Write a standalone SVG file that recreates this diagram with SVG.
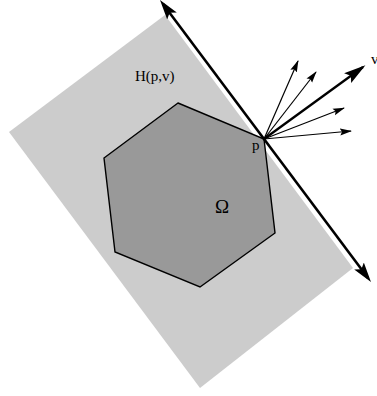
<svg xmlns="http://www.w3.org/2000/svg" width="377" height="396" viewBox="0 0 377 396">
<style>
.lbl{font-family:"Liberation Serif","Times New Roman",serif;fill:#000;}
.ray{stroke:#000;stroke-width:1.2;fill:none;}
</style>
<defs>
<marker id="bigArrow" markerUnits="userSpaceOnUse" markerWidth="20" markerHeight="14" viewBox="0 0 20 14" refX="15" refY="7" orient="auto-start-reverse">
<path d="M0,1 L20,7 L0,13 L4,7 z" fill="#000"/>
</marker>
<marker id="vArrow" markerUnits="userSpaceOnUse" markerWidth="22" markerHeight="14" viewBox="0 0 22 14" refX="19" refY="7" orient="auto">
<path d="M0,1 L22,7 L0,13 L4,7 z" fill="#000"/>
</marker>
<marker id="smallArrow" markerUnits="userSpaceOnUse" markerWidth="12" markerHeight="8" viewBox="0 0 12 8" refX="11" refY="4" orient="auto">
<path d="M0,0.5 L12,4 L0,7.5 L2,4 z" fill="#000"/>
</marker>
</defs>
<g id="halfplane">
<polygon points="165,15 353,268 200,388 9,132" fill="#cccccc"/>
<text class="lbl" x="135" y="81" font-size="15">H(p,v)</text>
</g>
<g id="omega">
<polygon points="178,103 264,139 275,233 200,287 115,252 104,158" fill="#999999" stroke="#000" stroke-width="1.4" stroke-linejoin="miter"/>
<text class="lbl" x="215" y="213" font-size="19">Ω</text>
</g>
<g id="connectors">
<line x1="163" y1="4" x2="368" y2="278" stroke="#000" stroke-width="2.6" marker-start="url(#bigArrow)" marker-end="url(#bigArrow)"/>
<line class="ray" x1="264" y1="139" x2="298" y2="61" marker-end="url(#smallArrow)"/>
<line class="ray" x1="264" y1="139" x2="316" y2="72" marker-end="url(#smallArrow)"/>
<line x1="264" y1="139" x2="363" y2="67" stroke="#000" stroke-width="2.4" marker-end="url(#vArrow)"/>
<line class="ray" x1="264" y1="139" x2="344" y2="108" marker-end="url(#smallArrow)"/>
<line class="ray" x1="264" y1="139" x2="351" y2="131" marker-end="url(#smallArrow)"/>
</g>
<g id="labels">
<text class="lbl" x="252" y="150" font-size="15">p</text>
<text class="lbl" x="371" y="64" font-size="15">v</text>
</g>
</svg>
